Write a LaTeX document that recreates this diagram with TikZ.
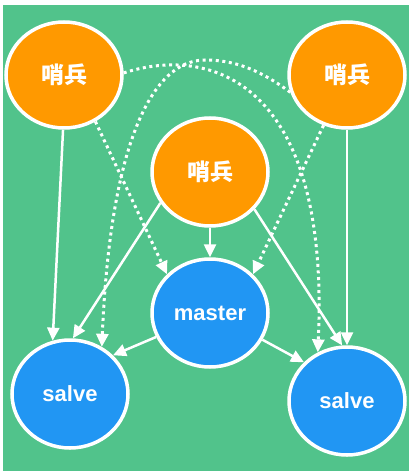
\documentclass[tikz,border=0pt]{standalone}
\usepackage{fontspec}
\setmainfont{Liberation Sans}
\newfontfamily\cjk{Noto Sans CJK SC}
\usetikzlibrary{shapes.geometric,arrows.meta}
\definecolor{bggreen}{RGB}{81,195,139}
\definecolor{sorange}{RGB}{255,153,0}
\definecolor{mblue}{RGB}{33,150,243}
\begin{document}
\begin{tikzpicture}[x=1pt,y=-1pt,
  sentinel/.style={ellipse, draw=white, line width=3.5pt, fill=sorange, text=white,
    minimum width=116pt, minimum height=106pt, inner sep=0pt,
    font=\cjk\bfseries\fontsize{23}{25}\selectfont},
  redis/.style={ellipse, draw=white, line width=3.5pt, fill=mblue, text=white,
    minimum width=116pt, minimum height=108pt, inner sep=0pt,
    font=\bfseries\fontsize{22}{25}\selectfont},
  conn/.style={draw=white, line width=2.5pt, -{Triangle[length=13pt,width=12pt]}},
  dots/.style={conn, line width=3pt, dash pattern=on 3pt off 3.6pt}]
\useasboundingbox (0,0) rectangle (409,473);
\fill[bggreen] (3,5) rectangle (409,471);
\node[sentinel] (s1) at (64,75) {哨兵};
\node[sentinel] (s2) at (347,75) {哨兵};
\node[sentinel, minimum height=108pt] (s3) at (210,172) {哨兵};
\node[redis] (m) at (210,313) {master};
\node[redis] (sl) at (70,394) {salve};
\node[redis] (sr) at (347,401) {salve};
% solid connectors
\draw[conn] (s1.-91) -- (sl.108);
\draw[conn] (s3.212) -- (sl.87);
\draw[conn] (s3.south) -- (m.north);
\draw[conn] (s3.320) -- (sr.95);
\draw[conn] (s2.south) -- (sr.north);
\draw[conn] (m.204) -- (sl.42);
\draw[conn] (m.333) -- (sr.138);
% dotted connectors
\draw[dots] (s1.304) -- (m.138);
\draw[dots] (s2.245) -- (m.42);
\draw[dots] (s1.2) .. controls (210,45) and (330,80) .. (sr.121);
\draw[dots] (s2.197) .. controls (260,70) and (235,60) .. (205,60)
  .. controls (150,60) and (110,150) .. (sl.56);
\end{tikzpicture}
\end{document}
